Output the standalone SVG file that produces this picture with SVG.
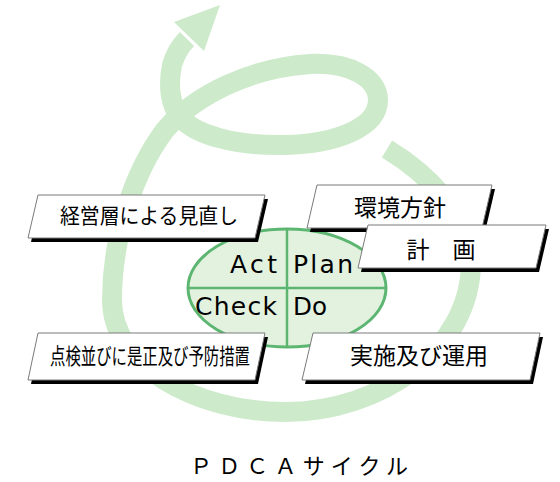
<svg xmlns="http://www.w3.org/2000/svg" width="560" height="482" viewBox="0 0 560 482">
<style>
.ring{fill:none;stroke:#cdeacb;stroke-width:20;stroke-linecap:butt;stroke-linejoin:round}
.head{fill:#cdeacb}
.shadow{fill:#000}
.box{fill:#fff;stroke:#7a7a7a;stroke-width:1}
.jp{font-family:"Noto Sans CJK JP","Noto Sans CJK SC",sans-serif;fill:#000;text-anchor:middle}
.en{font-family:"DejaVu Sans","Liberation Sans",sans-serif;font-size:25px;fill:#000}
.ell{fill:#e2f2df;stroke:#5cb672;stroke-width:3}
.div{stroke:#5cb672;stroke-width:2.5}
</style>
<g id="connectors">
<path class="ring" d="M387,149 C425,172 471,215 471,262 C471,350 380,412 285,412 C195,412 112,365 112,300 C112,235 135,170 165,130 C195,95 250,68 310,64 C350,62 378,78 378,100 C378,128 335,144 285,145 C235,146 195,135 180,117 C170,105 168,85 172,65 C175,55 180,46 187,39"/>
<polygon class="head" points="220,5 204,51 174,22"/>
</g>
<g id="pdca">
<ellipse class="ell" cx="287" cy="288" rx="99" ry="59"/>
<line class="div" x1="287" y1="229" x2="287" y2="347"/>
<line class="div" x1="188" y1="288" x2="386" y2="288"/>
<text class="en" x="230" y="273" textLength="47" lengthAdjust="spacing">Act</text>
<text class="en" x="293" y="273" textLength="60" lengthAdjust="spacing">Plan</text>
<text class="en" x="195" y="315" textLength="82" lengthAdjust="spacing">Check</text>
<text class="en" x="293" y="315" textLength="34" lengthAdjust="spacingAndGlyphs">Do</text>
</g>
<g id="review">
<polygon class="shadow" points="41,199 268,199 258,242 31,242"/>
<polygon class="box" points="38,195 265,195 255,238 28,238"/>
<text class="jp" x="149" y="223" font-size="21" textLength="178" lengthAdjust="spacingAndGlyphs">経営層による見直し</text>
</g>
<g id="policy">
<polygon class="shadow" points="320,189 495,189 485,232 310,232"/>
<polygon class="box" points="317,185 492,185 482,228 307,228"/>
<text class="jp" x="400" y="216" font-size="23">環境方針</text>
</g>
<g id="plan">
<polygon class="shadow" points="371,229 549,229 539,272 361,272"/>
<polygon class="box" points="368,225 546,225 536,268 358,268"/>
<text class="jp" x="441" y="258" font-size="23">計　画</text>
</g>
<g id="check">
<polygon class="shadow" points="41,337 268,337 258,384 31,384"/>
<polygon class="box" points="38,333 265,333 255,380 28,380"/>
<text class="jp" x="150" y="364" font-size="22" textLength="200" lengthAdjust="spacingAndGlyphs">点検並びに是正及び予防措置</text>
</g>
<g id="do">
<polygon class="shadow" points="316,337 543,337 533,384 305,384"/>
<polygon class="box" points="313,333 540,333 530,380 302,380"/>
<text class="jp" x="419" y="364" font-size="23">実施及び運用</text>
</g>
<g id="title">
<text class="jp" x="299" y="474" font-size="22" textLength="218" lengthAdjust="spacing">ＰＤＣＡサイクル</text>
</g>
</svg>
